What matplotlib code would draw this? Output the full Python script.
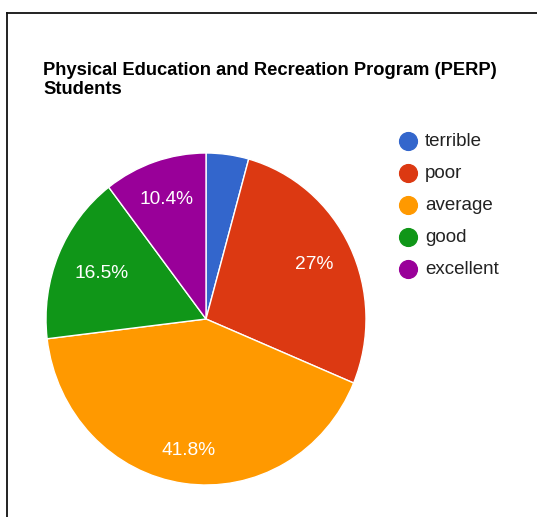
import matplotlib
matplotlib.use("Agg")
import numpy as np
import matplotlib.pyplot as plt
from matplotlib.lines import Line2D

categories = ["terrible", "poor", "average", "good", "excellent"]
values = [4.3, 27.0, 41.8, 16.5, 10.4]
labels = ["", "27%", "41.8%", "16.5%", "10.4%"]
colors = ["#3366CC", "#DC3912", "#FF9900", "#109618", "#990099"]
label_radius = [0.75, 0.75, 0.80, 0.71, 0.76]
title = "Physical Education and Recreation Program (PERP)\nStudents"

W, H = 537, 517
plt.rcParams["font.family"] = ["Liberation Sans", "DejaVu Sans"]
fig = plt.figure(figsize=(W / 100, H / 100), dpi=100)
fig.patch.set_facecolor("white")

def fx(px):
    return px / W

def fy(py):
    return 1 - py / H

# frame
fig.add_artist(Line2D([fx(7), fx(7)], [fy(13), fy(H + 5)], color="#111111", lw=1.3))
fig.add_artist(Line2D([fx(7), fx(W + 5)], [fy(13), fy(13)], color="#111111", lw=1.3))

# title
fig.text(fx(43), fy(62), title, fontsize=13.2, fontweight="bold", color="#000000",
         ha="left", va="top", linespacing=1.13)

# pie
cx, cy, rx, ry = 206, 319, 160, 166
ax = fig.add_axes([fx(cx - rx), fy(cy + ry), 2 * rx / W, 2 * ry / H])
wedges, texts = ax.pie(values, colors=colors, startangle=90, counterclock=False,
                       labels=labels, labeldistance=0.75,
                       wedgeprops=dict(edgecolor="white", linewidth=1.0))
for w, t, d in zip(wedges, texts, label_radius):
    ang = np.deg2rad((w.theta1 + w.theta2) / 2)
    t.set_position((d * np.cos(ang), d * np.sin(ang)))
    t.set_color("white")
    t.set_fontsize(13.8)
    t.set_ha("center")
    t.set_va("center")
ax.set_xlim(-1, 1)
ax.set_ylim(-1, 1)
ax.set_aspect("auto")
ax.axis("off")

# legend
for i, (cat, col) in enumerate(zip(categories, colors)):
    y = 141 + i * 32
    fig.add_artist(Line2D([fx(408)], [fy(y)], marker="o", markersize=12.8,
                          markerfacecolor=col, markeredgecolor=col, linestyle="none"))
    fig.text(fx(425), fy(y), cat, fontsize=13.5, color="#222222", ha="left", va="center")

fig.savefig("out.png", dpi=100, facecolor="white")
